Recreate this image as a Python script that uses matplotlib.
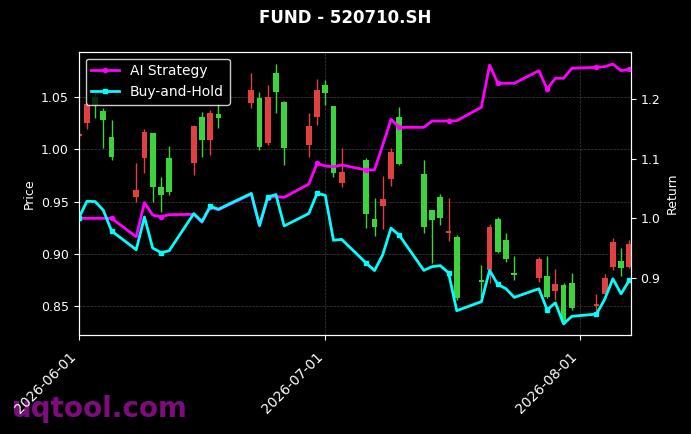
import matplotlib
matplotlib.use('Agg')
import matplotlib.pyplot as plt
import matplotlib.dates as mdates
import pandas as pd

# 交易日
dates = ['2026-06-01', '2026-06-02', '2026-06-03', '2026-06-04', '2026-06-05',
         '2026-06-08', '2026-06-09', '2026-06-10', '2026-06-11', '2026-06-12',
         '2026-06-15', '2026-06-16', '2026-06-17', '2026-06-18', '2026-06-22',
         '2026-06-23', '2026-06-24', '2026-06-25', '2026-06-26', '2026-06-29',
         '2026-06-30', '2026-07-01', '2026-07-02', '2026-07-03', '2026-07-06',
         '2026-07-07', '2026-07-08', '2026-07-09', '2026-07-10', '2026-07-13',
         '2026-07-14', '2026-07-15', '2026-07-16', '2026-07-17', '2026-07-20',
         '2026-07-21', '2026-07-22', '2026-07-23', '2026-07-24', '2026-07-27',
         '2026-07-28', '2026-07-29', '2026-07-30', '2026-07-31', '2026-08-03',
         '2026-08-04', '2026-08-05', '2026-08-06', '2026-08-07']

opens = [1.0125, 1.0252, 1.0500, 1.0369, 1.0122, 0.9543, 0.9918, 1.0157, 0.9639, 0.9918,
         0.9869, 1.0311, 1.0090, 1.0340, 1.0445, 1.0496, 1.0061, 1.0733, 1.0458, 1.0042,
         1.0314, 1.0618, 1.0417, 0.9680, 0.9898, 0.9332, 0.9457, 0.9713, 1.0314, 0.9764,
         0.9418, 0.9546, 0.9198, 0.9162, 0.8747, 0.8843, 0.9332, 0.9130, 0.8817, 0.8763,
         0.8785, 0.8644, 0.8699, 0.8715, 0.8497, 0.8612, 0.8869, 0.8932, 0.8874]
highs = [1.0170, 1.0458, 1.0550, 1.0400, 1.0282, 0.9869, 1.0196, 1.0162, 0.9735, 1.0033,
         1.0230, 1.0359, 1.0378, 1.0445, 1.0733, 1.0554, 1.0618, 1.0820, 1.0462, 1.0349,
         1.0676, 1.0666, 1.0420, 1.0013, 0.9918, 0.9534, 0.9745, 1.0013, 1.0407, 0.9898,
         0.9422, 0.9572, 0.9534, 0.9178, 0.8891, 0.9284, 0.9354, 0.9195, 0.8977, 0.8970,
         0.8977, 0.8852, 0.8715, 0.8817, 0.8612, 0.8804, 0.9147, 0.9051, 0.9130]
lows = [1.0110, 1.0196, 1.0298, 1.0011, 0.9898, 0.9495, 0.9774, 0.9495, 0.9399, 0.9562,
        0.9754, 0.9923, 0.9946, 1.0205, 1.0397, 0.9994, 1.0042, 1.0349, 0.9850, 0.9927,
        1.0234, 1.0426, 0.9735, 0.9639, 0.9246, 0.9169, 0.9236, 0.9649, 0.9850, 0.9198,
        0.8910, 0.9274, 0.9124, 0.8555, 0.8574, 0.8721, 0.9003, 0.8922, 0.8747, 0.8727,
        0.8571, 0.8555, 0.8331, 0.8459, 0.8427, 0.8603, 0.8843, 0.8785, 0.8862]
closes = [1.0145, 1.0436, 1.0431, 1.0282, 0.9930, 0.9610, 1.0167, 0.9639, 0.9562, 0.9591,
          1.0225, 1.0090, 1.0349, 1.0301, 1.0570, 1.0026, 1.0506, 1.0551, 1.0016, 1.0227,
          1.0570, 1.0538, 0.9771, 0.9786, 0.9380, 0.9255, 0.9527, 0.9978, 0.9860, 0.9258,
          0.9322, 0.9339, 0.9217, 0.8571, 0.8725, 0.9258, 0.9018, 0.8945, 0.8798, 0.8945,
          0.8586, 0.8705, 0.8346, 0.8475, 0.8513, 0.8763, 0.9114, 0.8859, 0.9092]

# 策略净值
ai_strategy = [1.0, 1.0, 1.0, 1.0, 1.0, 0.969, 1.0265, 1.0055, 1.0027, 1.0062,
               1.0067, 0.9934, 1.0189, 1.0142, 1.0407, 0.9871, 1.0350, 1.0365, 1.0353, 1.0576,
               1.0924, 1.0879, 1.0867, 1.0896, 1.0812, 1.0817, 1.1232, 1.1664, 1.1529, 1.1529,
               1.1635, 1.1635, 1.1635, 1.1640, 1.1866, 1.2576, 1.2269, 1.2269, 1.2269, 1.2481,
               1.2173, 1.2353, 1.2353, 1.2521, 1.2538, 1.2548, 1.2593, 1.2481, 1.2504]
buy_hold = [c / closes[0] for c in closes]

x = mdates.date2num(pd.to_datetime(dates))

plt.style.use('dark_background')
fig = plt.figure(figsize=(6.91, 4.34), dpi=100)
ax = fig.add_axes([0.1139, 0.2281, 0.7988, 0.6528])
ax2 = ax.twinx()

# 画K线 红涨绿跌
for xi, o, h, l, c in zip(x, opens, highs, lows, closes):
    color = '#e04040' if c >= o else '#3cd43c'
    ax.vlines(xi, l, h, color=color, linewidth=1)
    ax.bar(xi, max(abs(c - o), 0.0008), bottom=min(o, c), width=0.7, color=color)

ax2.plot(x, ai_strategy, color='magenta', linewidth=2, marker='o', markersize=3,
         markevery=4, label='AI Strategy')
ax2.plot(x, buy_hold, color='cyan', linewidth=2, marker='s', markersize=3,
         markevery=4, label='Buy-and-Hold')

ax.set_xlim(mdates.date2num(pd.Timestamp('2026-06-01')),
            mdates.date2num(pd.Timestamp('2026-08-07 04:00')))
ax.set_ylim(0.8219, 1.0938)
ax2.set_ylim(0.804, 1.28)

ax.xaxis.set_major_locator(mdates.MonthLocator())
ax.xaxis.set_major_formatter(mdates.DateFormatter('%Y-%m-%d'))
ax.tick_params(axis='x', labelsize=10, pad=7)
for lab in ax.get_xticklabels():
    lab.set_rotation(45)
    lab.set_ha('right')

ax.tick_params(axis='y', labelsize=9)
ax2.tick_params(labelsize=9)
ax.set_ylabel('Price', fontsize=9)
ax2.set_ylabel('Return', fontsize=9)
ax.grid(True, color='gray', linestyle='--', linewidth=0.5, alpha=0.5)

leg = ax2.legend(loc='upper left', fontsize=10, facecolor='black', edgecolor='white')

fig.suptitle('FUND - 520710.SH', fontsize=12, fontweight='bold', y=0.9585, va='center')
# 水印放在刻度文字下面
fig.text(0.017, 0.0385, 'uqtool.com', fontsize=20, fontweight='bold', color='#8e0e8e',
         alpha=0.9, ha='left', va='baseline', zorder=-1)

fig.savefig('out.png', dpi=100, facecolor='black')
